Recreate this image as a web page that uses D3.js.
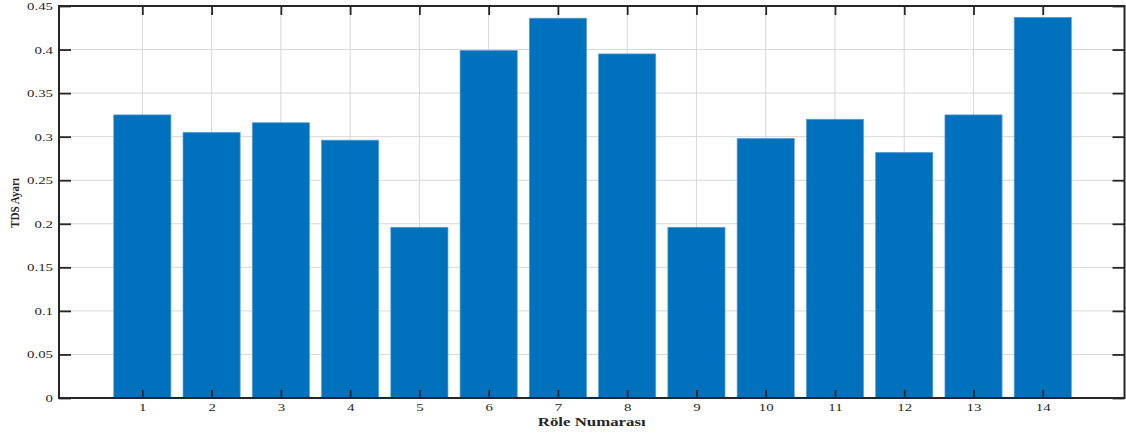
<!DOCTYPE html>
<html>
<head>
<meta charset="utf-8">
<script src="https://cdn.jsdelivr.net/npm/d3@7"></script>
<style>
  html, body { margin: 0; padding: 0; background: #fff; }
  svg { display: block; }
  text { font-family: "Liberation Serif", "Times New Roman", serif; fill: #262626; }
</style>
</head>
<body>
<svg id="chart" width="1126" height="436"></svg>
<script>
// Relay numbers and their TDS settings
const relays = [1, 2, 3, 4, 5, 6, 7, 8, 9, 10, 11, 12, 13, 14];
const tdsValues = [0.325, 0.305, 0.316, 0.296, 0.196, 0.399, 0.436, 0.395, 0.196, 0.298, 0.320, 0.282, 0.325, 0.437];
const yTickValues = [0, 0.05, 0.1, 0.15, 0.2, 0.25, 0.3, 0.35, 0.4, 0.45];
const yTickLabels = ["0", "0.05", "0.1", "0.15", "0.2", "0.25", "0.3", "0.35", "0.4", "0.45"];
const xLabel = "Röle Numarası";
const yLabel = "TDS Ayarı";

const svg = d3.select("#chart");
const plotLeft = 59, plotRight = 1124.5, plotTop = 6, plotBottom = 398;
const axisColor = "#262626";
const barColor = "#0072BD";
const textScale = 1.35;

const x = d3.scaleLinear().domain([-0.203, 15.18]).range([plotLeft, plotRight]);
const y = d3.scaleLinear().domain([0, 0.45]).range([plotBottom, plotTop]);
const barWidth = 0.825;

// grid
const grid = svg.append("g").attr("stroke", "#d8d8d8").attr("stroke-width", 1);
grid.selectAll("line.h").data(yTickValues).join("line")
  .attr("class", "h")
  .attr("x1", plotLeft).attr("x2", plotRight)
  .attr("y1", d => y(d)).attr("y2", d => y(d));
grid.selectAll("line.v").data(relays).join("line")
  .attr("class", "v")
  .attr("x1", d => x(d)).attr("x2", d => x(d))
  .attr("y1", plotTop).attr("y2", plotBottom);

// bars
svg.append("g").selectAll("rect").data(relays).join("rect")
  .attr("x", (d) => x(d - barWidth / 2))
  .attr("width", x(barWidth) - x(0))
  .attr("y", (d, i) => y(tdsValues[i]))
  .attr("height", (d, i) => y(0) - y(tdsValues[i]))
  .attr("fill", barColor)
  .attr("stroke", "#5c9fd6")
  .attr("stroke-width", 0.7);

// axes with inward ticks
const yAxis = d3.axisLeft(y).tickValues(yTickValues)
  .tickFormat((d, i) => yTickLabels[i])
  .tickSizeInner(-12).tickSizeOuter(0).tickPadding(6);
const gy = svg.append("g").attr("transform", `translate(${plotLeft},0)`).call(yAxis);

const xAxis = d3.axisBottom(x).tickValues(relays)
  .tickFormat(d => String(d))
  .tickSizeInner(-8).tickSizeOuter(0).tickPadding(6);
const gx = svg.append("g").attr("transform", `translate(0,${plotBottom})`).call(xAxis);

const yAxisR = d3.axisRight(y).tickValues(yTickValues).tickFormat("")
  .tickSizeInner(-12).tickSizeOuter(0);
svg.append("g").attr("transform", `translate(${plotRight},0)`).call(yAxisR);

const xAxisT = d3.axisTop(x).tickValues(relays).tickFormat("")
  .tickSizeInner(-9).tickSizeOuter(0);
svg.append("g").attr("transform", `translate(0,${plotTop})`).call(xAxisT);

svg.selectAll(".tick line").attr("stroke", axisColor).attr("stroke-width", 1.8);
svg.selectAll(".domain").remove();

gy.selectAll(".tick text")
  .attr("font-size", 11).attr("font-family", "Liberation Serif, serif")
  .attr("fill", axisColor)
  .attr("x", 0).attr("dy", "0.32em")
  .attr("transform", `translate(-6,0) scale(${textScale},1)`);
gx.selectAll(".tick text")
  .attr("font-size", 11).attr("font-family", "Liberation Serif, serif")
  .attr("fill", axisColor)
  .attr("y", 0).attr("dy", 0)
  .attr("transform", `translate(0,13) scale(${textScale},1)`);

// frame
svg.append("rect")
  .attr("x", plotLeft).attr("y", plotTop)
  .attr("width", plotRight - plotLeft).attr("height", plotBottom - plotTop)
  .attr("fill", "none").attr("stroke", axisColor).attr("stroke-width", 2);

// axis titles
svg.append("text")
  .attr("x", 0).attr("y", 0)
  .attr("transform", `translate(${(plotLeft + plotRight) / 2},425.5)`)
  .attr("text-anchor", "middle")
  .attr("font-size", 11.5).attr("font-weight", "bold")
  .attr("textLength", 108).attr("lengthAdjust", "spacingAndGlyphs")
  .text(xLabel);

svg.append("text")
  .attr("x", 0).attr("y", 0)
  .attr("transform", "translate(19,203) rotate(-90)")
  .attr("text-anchor", "middle")
  .attr("font-size", 13).attr("font-weight", "bold")
  .attr("textLength", 50).attr("lengthAdjust", "spacingAndGlyphs")
  .text(yLabel);
</script>
</body>
</html>
